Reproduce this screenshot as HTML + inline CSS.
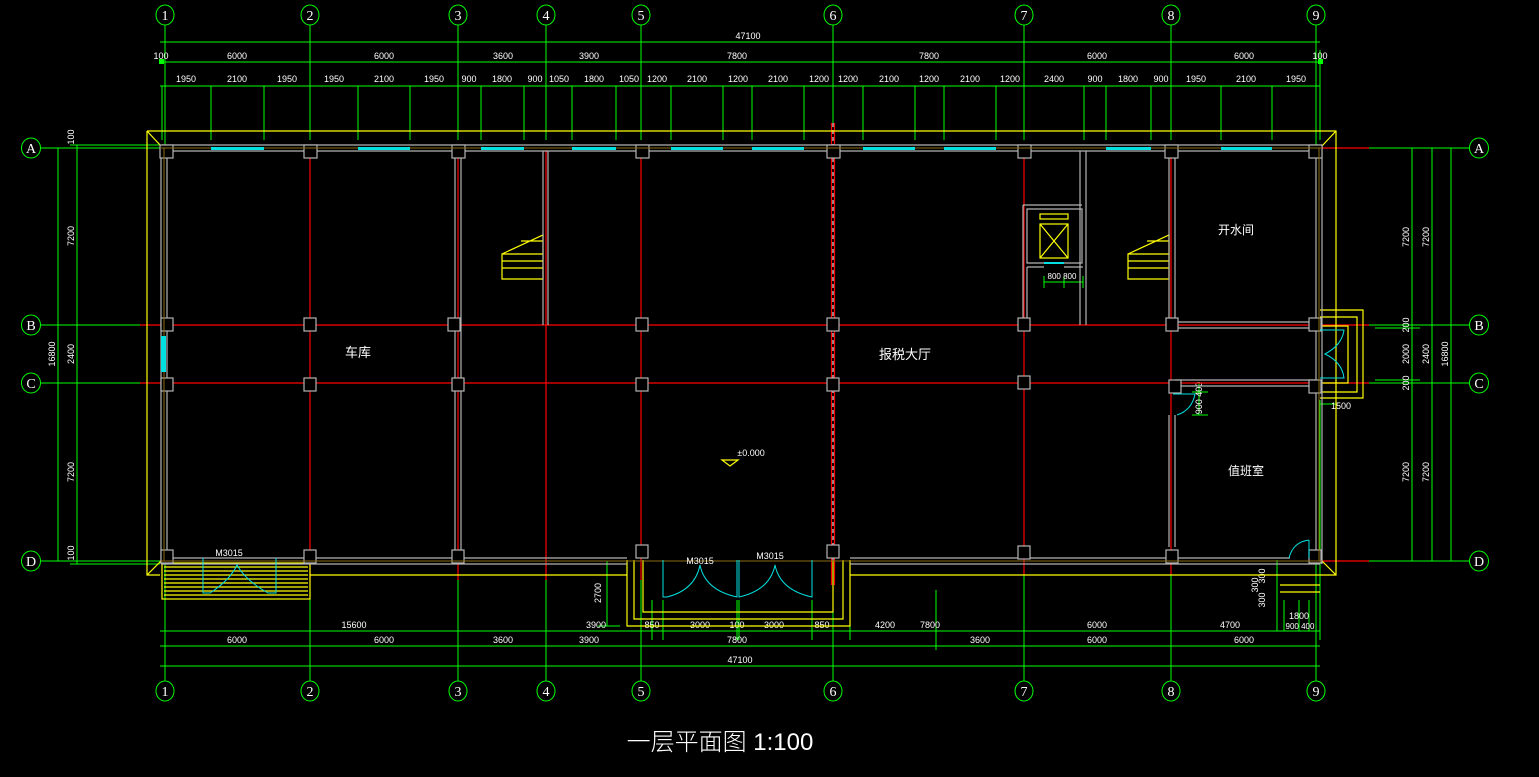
<!DOCTYPE html>
<html><head><meta charset="utf-8"><style>
html,body{margin:0;padding:0;background:#000;width:1539px;height:777px;overflow:hidden}
svg{display:block}
text{font-family:"Liberation Sans","Noto Sans CJK SC",sans-serif;fill:#fff}
.d{font-size:9px;text-anchor:middle}
.c{font-size:14px;text-anchor:middle;font-family:"Liberation Serif",serif}
</style></head><body>
<svg width="1539" height="777" viewBox="0 0 1539 777" xmlns="http://www.w3.org/2000/svg">
<g stroke="#00ff00" fill="none" stroke-width="1">
<ellipse cx="165" cy="15" rx="9" ry="10"/><ellipse cx="310" cy="15" rx="9" ry="10"/><ellipse cx="458" cy="15" rx="9" ry="10"/><ellipse cx="546" cy="15" rx="9" ry="10"/><ellipse cx="641" cy="15" rx="9" ry="10"/><ellipse cx="833" cy="15" rx="9" ry="10"/><ellipse cx="1024" cy="15" rx="9" ry="10"/><ellipse cx="1171" cy="15" rx="9" ry="10"/><ellipse cx="1316" cy="15" rx="9" ry="10"/>
<ellipse cx="165" cy="691" rx="9" ry="10"/><ellipse cx="310" cy="691" rx="9" ry="10"/><ellipse cx="458" cy="691" rx="9" ry="10"/><ellipse cx="546" cy="691" rx="9" ry="10"/><ellipse cx="641" cy="691" rx="9" ry="10"/><ellipse cx="833" cy="691" rx="9" ry="10"/><ellipse cx="1024" cy="691" rx="9" ry="10"/><ellipse cx="1171" cy="691" rx="9" ry="10"/><ellipse cx="1316" cy="691" rx="9" ry="10"/>
<ellipse cx="31" cy="148" rx="9.5" ry="10"/><ellipse cx="31" cy="325" rx="9.5" ry="10"/><ellipse cx="31" cy="383" rx="9.5" ry="10"/><ellipse cx="31" cy="561" rx="9.5" ry="10"/>
<ellipse cx="1479" cy="148" rx="9.5" ry="10"/><ellipse cx="1479" cy="325" rx="9.5" ry="10"/><ellipse cx="1479" cy="383" rx="9.5" ry="10"/><ellipse cx="1479" cy="561" rx="9.5" ry="10"/>
<path d="M165 25V148 M310 25V140 M458 25V140 M546 25V140 M641 25V140 M833 25V123 M1024 25V140 M1171 25V140 M1316 25V148
M165 561V681 M310 575V681 M458 580V681 M546 575V681 M641 580V681 M833 585V681 M1024 575V681 M1171 575V681 M1316 561V681"/>
<path d="M41 148H160 M41 325H140 M41 383H140 M41 561H160 M1336 148H1469 M1369 325H1469 M1369 383H1469 M1336 561H1469"/>
<path d="M160 42H1320 M160 62H1320 M160 86H1320"/>
<path d="M162 86V140 M211 86V140 M264 86V140 M358 86V140 M410 86V140 M481 86V140 M524 86V140 M572 86V140 M616 86V140 M671 86V140 M723 86V140 M752 86V140 M804 86V140 M863 86V140 M915 86V140 M944 86V140 M996 86V140 M1084 86V140 M1106 86V140 M1151 86V140 M1221 86V140 M1272 86V140 M1320 50V140"/>
<path d="M58 148V561 M77 145V564 M70 145H160 M70 564H160"/>
<path d="M1412 148V561 M1432 148V561 M1451 148V561 M1375 328H1420 M1375 380H1420"/>
<path d="M160 631H1320 M160 646H1320 M160 666H1320 M607 561V626 M598 626H620 M652 600V640 M663 600V640 M737 600V640 M739 600V640 M812 600V640 M850 600V640 M936 590V650 M1277 560V631 M1284 600V631 M1299 600V631 M1309 600V631 M1320 400V640 M1320 404H1336 M1336 398V412 M1199 383V415 M1192 383H1208 M1192 392H1208 M1192 415H1208 M1044 282H1083 M1044 276V288 M1064 276V288 M1083 276V288"/>
</g>
<g fill="#00ff00">
<rect x="159" y="59" width="5" height="5"/><rect x="1318" y="59" width="5" height="5"/>
</g>
<text class="d" x="748" y="39">47100</text>
<text class="d" x="161" y="59">100</text><text class="d" x="237" y="59">6000</text><text class="d" x="384" y="59">6000</text><text class="d" x="503" y="59">3600</text><text class="d" x="589" y="59">3900</text><text class="d" x="737" y="59">7800</text><text class="d" x="929" y="59">7800</text><text class="d" x="1097" y="59">6000</text><text class="d" x="1244" y="59">6000</text><text class="d" x="1320" y="59">100</text>
<text class="d" x="186" y="82">1950</text><text class="d" x="237" y="82">2100</text><text class="d" x="287" y="82">1950</text><text class="d" x="334" y="82">1950</text><text class="d" x="384" y="82">2100</text><text class="d" x="434" y="82">1950</text><text class="d" x="469" y="82">900</text><text class="d" x="502" y="82">1800</text><text class="d" x="535" y="82">900</text><text class="d" x="559" y="82">1050</text><text class="d" x="594" y="82">1800</text><text class="d" x="629" y="82">1050</text><text class="d" x="657" y="82">1200</text><text class="d" x="697" y="82">2100</text><text class="d" x="738" y="82">1200</text><text class="d" x="778" y="82">2100</text><text class="d" x="819" y="82">1200</text><text class="d" x="848" y="82">1200</text><text class="d" x="889" y="82">2100</text><text class="d" x="929" y="82">1200</text><text class="d" x="970" y="82">2100</text><text class="d" x="1010" y="82">1200</text><text class="d" x="1054" y="82">2400</text><text class="d" x="1095" y="82">900</text><text class="d" x="1128" y="82">1800</text><text class="d" x="1161" y="82">900</text><text class="d" x="1196" y="82">1950</text><text class="d" x="1246" y="82">2100</text><text class="d" x="1296" y="82">1950</text>
<text class="d" x="354" y="628">15600</text><text class="d" x="596" y="628">3900</text><text class="d" x="652" y="628">850</text><text class="d" x="700" y="628">3000</text><text class="d" x="737" y="628">100</text><text class="d" x="774" y="628">3000</text><text class="d" x="822" y="628">850</text><text class="d" x="885" y="628">4200</text><text class="d" x="930" y="628">7800</text><text class="d" x="1097" y="628">6000</text><text class="d" x="1230" y="628">4700</text>
<text class="d" x="237" y="643">6000</text><text class="d" x="384" y="643">6000</text><text class="d" x="503" y="643">3600</text><text class="d" x="589" y="643">3900</text><text class="d" x="737" y="643">7800</text><text class="d" x="980" y="643">3600</text><text class="d" x="1097" y="643">6000</text><text class="d" x="1244" y="643">6000</text>
<text class="d" x="740" y="663">47100</text>
<text class="d" x="1299" y="619">1800</text><text class="d" x="1300" y="629" style="font-size:8px">900 400</text>
<text class="d" x="1062" y="279" style="font-size:8px">800 800</text>
<text class="d" x="1341" y="409">1500</text>
<g class="d">
<text class="d" transform="translate(74,137) rotate(-90)">100</text>
<text class="d" transform="translate(74,236) rotate(-90)">7200</text>
<text class="d" transform="translate(74,354) rotate(-90)">2400</text>
<text class="d" transform="translate(55,354) rotate(-90)">16800</text>
<text class="d" transform="translate(74,472) rotate(-90)">7200</text>
<text class="d" transform="translate(74,553) rotate(-90)">100</text>
<text class="d" transform="translate(1409,237) rotate(-90)">7200</text>
<text class="d" transform="translate(1429,237) rotate(-90)">7200</text>
<text class="d" transform="translate(1409,325) rotate(-90)">200</text>
<text class="d" transform="translate(1409,354) rotate(-90)">2000</text>
<text class="d" transform="translate(1409,383) rotate(-90)">200</text>
<text class="d" transform="translate(1429,354) rotate(-90)">2400</text>
<text class="d" transform="translate(1448,354) rotate(-90)">16800</text>
<text class="d" transform="translate(1409,472) rotate(-90)">7200</text>
<text class="d" transform="translate(1429,472) rotate(-90)">7200</text>
<text class="d" transform="translate(601,593) rotate(-90)">2700</text>
<text class="d" transform="translate(1202,398) rotate(-90)">900 400</text>
<text class="d" transform="translate(1265,576) rotate(-90)">300</text>
<text class="d" transform="translate(1258,585) rotate(-90)">300</text>
<text class="d" transform="translate(1265,600) rotate(-90)">300</text>
</g>
<text class="c" x="165" y="20">1</text><text class="c" x="310" y="20">2</text><text class="c" x="458" y="20">3</text><text class="c" x="546" y="20">4</text><text class="c" x="641" y="20">5</text><text class="c" x="833" y="20">6</text><text class="c" x="1024" y="20">7</text><text class="c" x="1171" y="20">8</text><text class="c" x="1316" y="20">9</text>
<text class="c" x="165" y="696">1</text><text class="c" x="310" y="696">2</text><text class="c" x="458" y="696">3</text><text class="c" x="546" y="696">4</text><text class="c" x="641" y="696">5</text><text class="c" x="833" y="696">6</text><text class="c" x="1024" y="696">7</text><text class="c" x="1171" y="696">8</text><text class="c" x="1316" y="696">9</text>
<text class="c" x="31" y="153">A</text><text class="c" x="31" y="330">B</text><text class="c" x="31" y="388">C</text><text class="c" x="31" y="566">D</text>
<text class="c" x="1479" y="153">A</text><text class="c" x="1479" y="330">B</text><text class="c" x="1479" y="388">C</text><text class="c" x="1479" y="566">D</text>
<g stroke="#ff0000" stroke-width="1.2">
<path d="M310 150V580 M458 150V580 M546 150V580 M641 150V580 M1024 150V575 M1171 150V575 M140 325H1320 M140 383H1320 M1320 148H1369 M1320 561H1369 M1320 325H1369 M1320 383H1369 M160 148H165 M160 561H165"/>
<path d="M831.5 123V585 M834.5 123V585"/>
</g>
<path d="M833 123V585" stroke="#fff" stroke-width="1" stroke-dasharray="4 3"/>
<g stroke="#ffff00" fill="none" stroke-width="1.2">
<path d="M147 131H1336V575H850 M627 575H310 M160 575H147V131 M147 131L161 146 M1336 131L1322 146 M147 575L161 561 M1336 575L1322 561"/>
<path d="M627 560V626H850V560 M634 560V619H843V560 M643 560V612H833V560"/>
<path d="M1320 310H1363V398H1320 M1320 317H1357V392H1320 M1320 326H1348V383H1320"/>
<path d="M1280 585H1320 M1280 592H1320"/>
<rect x="162" y="563" width="148" height="36"/>
<path d="M164 567H308 M164 571H308 M164 575H308 M164 579H308 M164 583H308 M164 587H308 M164 591H308 M164 595H308"/>
<path d="M502 254H543V279H502Z M502 261H543 M502 268H543 M502 254L543 235V254 M543 241H521"/>
<path d="M1128 254H1169V279H1128Z M1128 261H1169 M1128 268H1169 M1128 254L1169 235V254 M1169 241H1147"/>
<rect x="1040" y="214" width="28" height="5"/>
<rect x="1040" y="224" width="28" height="34"/>
<path d="M1040 224L1068 258 M1068 224L1040 258"/>
<path d="M722 460H738L730 466Z"/>
</g>
<g stroke="#b4b4b4" fill="none" stroke-width="1.2">
<path d="M161 145H1322 M167 151H1316 M161 145V564 M167 151V558 M161 564H627 M167 558H627 M850 564H1320 M850 558H1290 M1316 151V558 M1322 145V564"/>
<path d="M455 151V558 M461 151V558 M543 151V325 M548 151V325 M1080 151V325 M1086 151V325 M1169 151V322 M1175 151V322 M1175 322H1316 M1175 328H1316 M1175 380H1316 M1175 386H1316 M1169 415V547 M1175 415V547"/>
<path d="M1023 205H1082 M1023 205V325 M1027 209H1082V263H1027Z M1027 267H1044 M1064 267H1083 M1027 267V325"/>
<g fill="#000">
<rect x="160" y="145" width="13" height="13"/><rect x="304" y="145" width="13" height="13"/><rect x="452" y="145" width="13" height="13"/><rect x="636" y="145" width="13" height="13"/><rect x="827" y="145" width="13" height="13"/><rect x="1018" y="145" width="13" height="13"/><rect x="1165" y="145" width="13" height="13"/><rect x="1309" y="145" width="13" height="13"/>
<rect x="161" y="318" width="12" height="13"/><rect x="304" y="318" width="12" height="13"/><rect x="448" y="318" width="12" height="13"/><rect x="636" y="318" width="12" height="13"/><rect x="827" y="318" width="12" height="13"/><rect x="1018" y="318" width="12" height="13"/><rect x="1166" y="318" width="12" height="13"/><rect x="1309" y="318" width="12" height="13"/>
<rect x="161" y="378" width="12" height="13"/><rect x="304" y="378" width="12" height="13"/><rect x="452" y="378" width="12" height="13"/><rect x="636" y="378" width="12" height="13"/><rect x="827" y="378" width="12" height="13"/><rect x="1018" y="376" width="12" height="13"/><rect x="1169" y="380" width="12" height="13"/><rect x="1309" y="380" width="12" height="13"/>
<rect x="161" y="550" width="12" height="13"/><rect x="304" y="550" width="12" height="13"/><rect x="452" y="550" width="12" height="13"/><rect x="636" y="545" width="12" height="13"/><rect x="827" y="545" width="12" height="13"/><rect x="1018" y="546" width="12" height="13"/><rect x="1166" y="550" width="12" height="13"/><rect x="1309" y="550" width="12" height="13"/>
</g>
</g>
<path d="M161 148H1322 M161 561H1322 M164 148V561 M1319 148V561" stroke="#8a6a10" stroke-width="1"/>
<g fill="#00e0e0">
<rect x="211" y="147" width="53" height="3"/><rect x="358" y="147" width="52" height="3"/><rect x="481" y="147" width="43" height="3"/><rect x="572" y="147" width="44" height="3"/><rect x="671" y="147" width="52" height="3"/><rect x="752" y="147" width="52" height="3"/><rect x="863" y="147" width="52" height="3"/><rect x="944" y="147" width="52" height="3"/><rect x="1106" y="147" width="45" height="3"/><rect x="1221" y="147" width="51" height="3"/>
<rect x="161" y="336" width="5" height="36"/><rect x="1044" y="262" width="20" height="2"/>
</g>
<g stroke="#00e0e0" fill="none" stroke-width="1">
<path d="M663 560V597H667Q695 590 700 565Q705 590 737 597V560 M739 560V597Q770 590 775 565Q780 590 812 597V560"/>
<path d="M203 558V593H210Q230 580 237 565Q245 580 268 593H276V558"/>
<path d="M1320 330H1344Q1342 345 1325 354Q1342 362 1344 378H1320"/>
<path d="M1173 394H1195Q1192 410 1177 415"/>
<path d="M1309 540V558 M1309 540Q1293 542 1289 558"/>
</g>
<text x="358" y="357" style="font-size:13px;text-anchor:middle">车库</text>
<text x="905" y="359" style="font-size:13px;text-anchor:middle">报税大厅</text>
<text x="1236" y="234" style="font-size:12px;text-anchor:middle">开水间</text>
<text x="1246" y="475" style="font-size:12px;text-anchor:middle">值班室</text>
<text x="751" y="456" style="font-size:9px;text-anchor:middle">±0.000</text>
<text x="229" y="556" class="d">M3015</text>
<text x="700" y="564" class="d">M3015</text>
<text x="770" y="559" class="d">M3015</text>
<text x="720" y="750" style="font-size:24px;text-anchor:middle;font-weight:300">一层平面图 1:100</text>
</svg>
</body></html>
